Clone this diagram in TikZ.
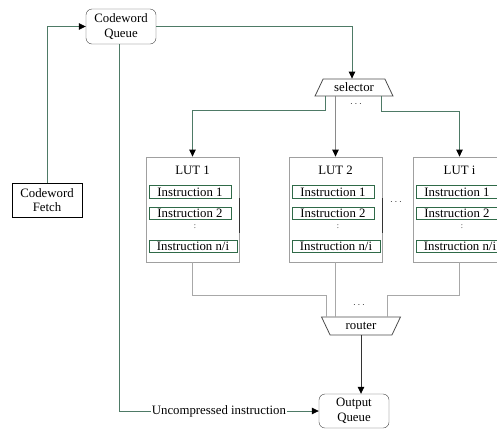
\documentclass[tikz,border=0pt]{standalone}
\usepackage{fontspec}
\setmainfont{Liberation Serif}
\usetikzlibrary{arrows.meta,shapes.geometric,calc}
\definecolor{wire}{HTML}{4E7A66}
\definecolor{lightwire}{HTML}{A8A8A8}
\definecolor{midwire}{HTML}{8A8A8A}
\definecolor{instgreen}{HTML}{2F6A48}
\definecolor{lutgray}{HTML}{A0A0A0}
\tikzset{
  base/.style={font=\fontsize{12.8}{14.5}\selectfont, align=center, inner sep=0pt},
  queue/.style={base, draw=black!75, rounded corners=6pt, minimum width=70pt, minimum height=35pt},
  fetchbox/.style={base, draw=black, minimum width=70pt, minimum height=34pt},
  lutbox/.style={draw=lutgray, line width=0.8pt, minimum width=93pt, minimum height=105pt},
  instr/.style={base, draw=instgreen, line width=0.8pt, minimum height=12.5pt},
  mux/.style={base, trapezium, trapezium stretches=true, draw=black!70, line width=0.8pt},
  wirepath/.style={draw=wire, line width=0.8pt},
  feed/.style={wirepath, -{Triangle[length=7pt,width=6.5pt,color=black]}},
  lutout/.style={draw=lightwire, line width=0.8pt},
  dots/.style={font=\fontsize{10}{10}\selectfont, text=black!85, inner sep=0pt},
  vdot/.style={font=\fontsize{8}{8}\selectfont, text=black!85, inner sep=0pt}
}
\begin{document}
\begin{tikzpicture}[x=1pt,y=-1pt]
\useasboundingbox (0,0) rectangle (497,432);
\clip (0,0) rectangle (497,432);

% queues, fetch unit and the two multiplexers
\node[queue] (cq) at (121,26.5) {Codeword\\Queue};
\node[fetchbox] (cf) at (47,200) {Codeword\\Fetch};
\node[mux, trapezium left angle=60, trapezium right angle=60,
      minimum width=78pt, minimum height=17pt] (sel) at (354,87.5) {selector};
\node[mux, trapezium left angle=120, trapezium right angle=120,
      minimum width=79pt, minimum height=18pt] (rt) at (361,326) {router};
\node[queue, minimum height=34pt] (oq) at (354,411) {Output\\Queue};

% lookup tables
\foreach \n/\x in {1/146, 2/289, i/413} {
  \node[lutbox] (lut\n) at ({\x+46.5},209.5) {};
  \node[base] (lt\n) at ({\x+46.5},170) {LUT \n};
  \node[instr, minimum width=82pt] (ia\n) at ({\x+44},192) {Instruction 1};
  \node[instr, minimum width=82pt] (ib\n) at ({\x+44},213.5) {Instruction 2};
  \node[vdot] (iv\n) at ({\x+49},226.5) {:};
  \node[instr, minimum width=88pt] (ic\n) at ({\x+47},246.5) {Instruction n/i};
}
\foreach \n in {1,2} {
  \draw[black!80, line width=0.8pt] ($(lut\n.east)+(0,-11.5)$) -- ($(lut\n.east)+(0,23.5)$);
}

% ellipses
\node[dots] (d1) at (356,104) {$\cdots$};
\node[dots] (d2) at (396,202) {$\cdots$};
\node[dots] (d3) at (359,305) {$\cdots$};

% connectors
\draw[feed] (cf.north) |- (cq.west);
\draw[feed] (cq.east) -| ([xshift=-2pt]sel.north);
\draw[feed] ([xshift=-29pt]sel.south) -- ++(0,14) -| (lut1.north);
\draw[draw=midwire, line width=0.8pt, -{Triangle[length=7pt,width=6.5pt,color=black]}]
  (lut2.north |- sel.south) -- (lut2.north);
\draw[feed] ([xshift=27pt]sel.south) -- ++(0,15) -| (luti.north);

\draw[lutout] (lut1.south) -- ++(0,33) -| ([xshift=-35pt]rt.north);
\draw[lutout] (lut2.south) -- (lut2.south |- rt.north);
\draw[lutout] (luti.south) -- ++(0,33) -| ([xshift=26pt]rt.north);

\draw[feed, draw=black!80] (rt.south) -- (rt.south |- oq.north);
\draw[feed] ([xshift=-2pt]cq.south) |- (oq.west)
  node[base, pos=0.75, fill=white, inner sep=1pt] (un) {Uncompressed instruction};
\end{tikzpicture}
\end{document}
